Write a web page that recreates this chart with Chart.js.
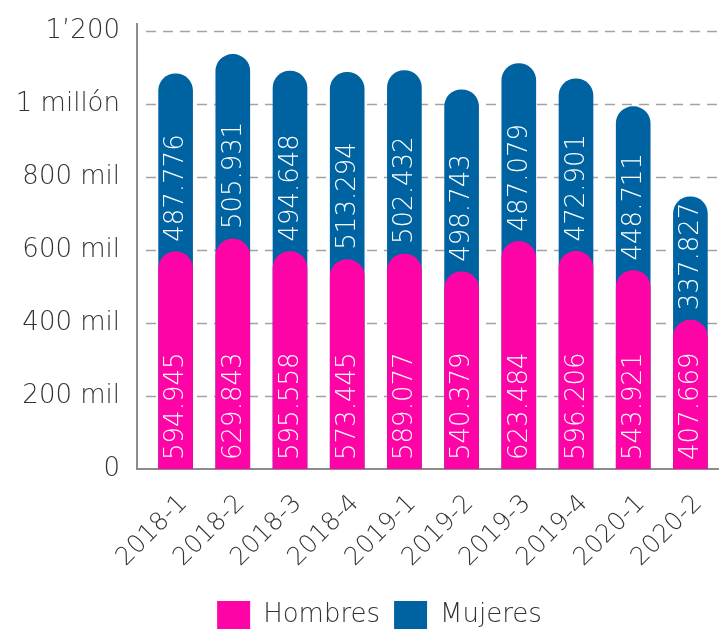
<!DOCTYPE html>
<html>
<head>
<meta charset="utf-8">
<script src="https://cdn.jsdelivr.net/npm/chart.js@4/dist/chart.umd.min.js"></script>
<style>
  html, body { margin: 0; padding: 0; background: #fff; }
  #wrap { width: 719px; height: 639px; }
</style>
</head>
<body>
<div id="wrap"><canvas id="chart" width="719" height="639"></canvas></div>
<script>
// trimestres y valores (miles de personas)
const periodos = ['2018-1', '2018-2', '2018-3', '2018-4', '2019-1', '2019-2', '2019-3', '2019-4', '2020-1', '2020-2'];
const hombres = [594.945, 629.843, 595.558, 573.445, 589.077, 540.379, 623.484, 596.206, 543.921, 407.669];
const mujeres = [487.776, 505.931, 494.648, 513.294, 502.432, 498.743, 487.079, 472.901, 448.711, 337.827];
const yTicks = [0, 200, 400, 600, 800, 1000, 1200];
const yTickLabels = ['0', '200 mil', '400 mil', '600 mil', '800 mil', '1 millón', '1’200'];

const rosa = '#fe04a6';
const azul = '#0063a1';
const gris = '#333333';
const fuente = '"DejaVu Sans", sans-serif';

// total por trimestre para la barra azul (detrás de la rosa)
const totales = hombres.map((h, i) => h + mujeres[i]);

// rejilla punteada y ejes
const ejes = {
  id: 'ejes',
  afterLayout(chart) {
    // la leyenda del original va un poco a la derecha del centro
    chart.legend.left += 20;
    chart.legend.right += 20;
  },
  beforeDatasetsDraw(chart) {
    const { ctx, chartArea, scales: { y } } = chart;
    const x0 = 137;
    ctx.save();
    ctx.strokeStyle = '#a3a3a3';
    ctx.lineWidth = 1.5;
    ctx.setLineDash([10, 7]);
    yTicks.forEach(v => {
      if (v === 0) return;
      const py = Math.round(y.getPixelForValue(v)) + 0.5;
      ctx.beginPath();
      ctx.moveTo(x0 + 9, py);
      ctx.lineTo(chart.width, py);
      ctx.stroke();
    });
    ctx.setLineDash([]);
    ctx.strokeStyle = '#8c8c8c';
    ctx.lineWidth = 2;
    ctx.beginPath();
    ctx.moveTo(x0, chartArea.top - 8);
    ctx.lineTo(x0, chartArea.bottom);
    ctx.lineTo(chart.width, chartArea.bottom);
    ctx.stroke();
    ctx.restore();
  }
};

// valores dentro de las barras, en vertical
const etiquetas = {
  id: 'etiquetas',
  afterDatasetsDraw(chart) {
    const { ctx, scales: { y } } = chart;
    const barras = chart.getDatasetMeta(0).data;
    ctx.save();
    ctx.fillStyle = '#ffffff';
    ctx.font = '200 26px ' + fuente;
    ctx.textAlign = 'left';
    ctx.textBaseline = 'middle';
    barras.forEach((bar, i) => {
      const pares = [
        [y.getPixelForValue(0) - 9, hombres[i]],
        [y.getPixelForValue(hombres[i]) - 10, mujeres[i]]
      ];
      pares.forEach(([py, v]) => {
        ctx.save();
        ctx.translate(bar.x + 1, py);
        ctx.rotate(-Math.PI / 2);
        ctx.fillText(v.toFixed(3), 0, 0);
        ctx.restore();
      });
    });
    ctx.restore();
  }
};

new Chart(document.getElementById('chart'), {
  type: 'bar',
  data: {
    labels: periodos,
    datasets: [
      {
        label: 'Hombres',
        data: hombres,
        backgroundColor: rosa,
        barThickness: 34,
        borderRadius: 20,
        borderSkipped: 'start',
        grouped: false
      },
      {
        label: 'Mujeres',
        data: totales,
        backgroundColor: azul,
        barThickness: 34,
        borderRadius: 20,
        borderSkipped: 'start',
        grouped: false
      }
    ]
  },
  options: {
    responsive: false,
    animation: false,
    layout: { padding: { top: 31, left: 0, right: 0, bottom: 0 } },
    plugins: {
      tooltip: { enabled: false },
      legend: {
        position: 'bottom',
        labels: {
          boxWidth: 33,
          boxHeight: 28,
          padding: 14,
          color: gris,
          font: { family: fuente, size: 26, weight: '200' }
        }
      }
    },
    scales: {
      x: {
        grid: { display: false },
        border: { display: false },
        ticks: {
          color: gris,
          maxRotation: 45,
          minRotation: 45,
          padding: 12,
          labelOffset: 8,
          font: { family: fuente, size: 25, weight: '200' }
        },
        afterFit(scale) {
          scale.height = 118;
          scale.paddingLeft = 0;
          scale.paddingRight = -4;
        }
      },
      y: {
        min: 0,
        max: 1200,
        grid: { display: false, drawTicks: false },
        border: { display: false },
        afterBuildTicks(scale) { scale.ticks = yTicks.map(v => ({ value: v })); },
        ticks: {
          color: gris,
          padding: 27,
          font: { family: fuente, size: 26, weight: '200' },
          callback: (v) => yTickLabels[yTicks.indexOf(v)]
        },
        afterFit(scale) {
          scale.width = 147;
          scale.paddingTop = 0;
          scale.paddingBottom = 0;
        }
      }
    }
  },
  plugins: [ejes, etiquetas]
});
</script>
</body>
</html>
